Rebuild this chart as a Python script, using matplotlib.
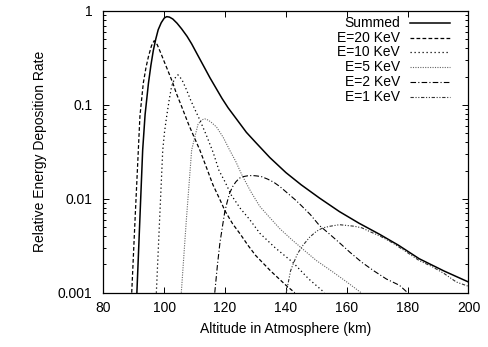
import matplotlib
matplotlib.use("Agg")
import matplotlib.pyplot as plt
from matplotlib.ticker import FixedLocator, FixedFormatter, LogLocator, NullFormatter

plt.rcParams['font.family'] = ['Liberation Sans', 'DejaVu Sans']

# ---- data (altitude km, relative rate) ----
summed_km = [91.0, 92.0, 92.9, 93.7, 94.8, 95.6, 96.4, 97.2, 98.0, 99.0, 100.0, 100.8,
             101.7, 102.8, 104.2, 105.7, 107.5, 109.0, 110.5, 112.0, 113.5, 115.0,
             117.0, 119.0, 121.0, 123.7, 127.0, 130.0, 134.7, 140.0, 145.0, 151.0,
             157.6, 164.0, 170.7, 177.0, 183.8, 192.0, 200.0]
summed_val = [0.001, 0.0063, 0.033, 0.079, 0.170, 0.263, 0.380, 0.501, 0.631, 0.750,
              0.841, 0.871, 0.861, 0.822, 0.741, 0.646, 0.537, 0.447, 0.363, 0.295,
              0.240, 0.195, 0.151, 0.117, 0.093, 0.071, 0.051, 0.040, 0.0275, 0.019,
              0.0141, 0.0102, 0.0073, 0.0055, 0.0042, 0.0032, 0.0023, 0.0017, 0.0013]

e20_km = [89.3, 90.5, 91.3, 92.0, 93.1, 94.0, 94.8, 95.8, 96.7, 97.7, 99.0, 100.0,
          101.0, 102.7, 104.0, 105.5, 108.0, 110.0, 111.7, 114.0, 116.0, 118.3, 120.0,
          122.5, 125.0, 127.5, 130.0, 135.0, 140.0, 142.9]
e20_val = [0.001, 0.0071, 0.025, 0.076, 0.170, 0.251, 0.327, 0.427, 0.483, 0.437,
           0.347, 0.288, 0.240, 0.175, 0.132, 0.100, 0.062, 0.044, 0.033, 0.021,
           0.0141, 0.0098, 0.0074, 0.0054, 0.0042, 0.0032, 0.0025, 0.0017, 0.0012,
           0.001]

e10_km = [97.4, 98.5, 99.5, 100.1, 100.8, 101.6, 102.4, 103.4, 104.5, 105.8, 107.3,
          108.7, 110.1, 111.7, 113.9, 116.1, 118.0, 120.0, 122.0, 125.0, 128.1, 131.4,
          136.5, 142.3, 147.5, 152.7]
e10_val = [0.001, 0.0063, 0.033, 0.052, 0.076, 0.112, 0.157, 0.191, 0.209, 0.186,
           0.145, 0.112, 0.089, 0.069, 0.047, 0.031, 0.020, 0.0151, 0.011, 0.0079,
           0.0060, 0.0043, 0.0030, 0.0021, 0.0014, 0.001]

e5_km = [105.6, 107.2, 109.0, 110.0, 111.1, 112.2, 113.3, 114.4, 115.5, 117.2, 119.4,
         121.5, 123.5, 125.5, 128.4, 131.4, 134.7, 138.0, 141.8, 145.6, 150.0, 155.0,
         160.0, 164.7]
e5_val = [0.001, 0.0056, 0.033, 0.045, 0.062, 0.069, 0.071, 0.069, 0.065, 0.058, 0.045,
          0.033, 0.025, 0.018, 0.0120, 0.0083, 0.0063, 0.0048, 0.0037, 0.0029, 0.0022,
          0.0017, 0.0013, 0.001]

e2_km = [116.6, 117.5, 118.3, 119.1, 119.9, 120.7, 121.5, 122.5, 123.5, 124.7, 125.9,
         127.5, 129.0, 130.5, 132.0, 134.0, 136.0, 138.0, 140.5, 143.0, 145.0, 148.0,
         151.0, 154.0, 157.6, 161.0, 165.0, 169.0, 173.0, 177.3, 180.0]
e2_val = [0.001, 0.002, 0.0034, 0.005, 0.0073, 0.0093, 0.0115, 0.0135, 0.0151, 0.0166,
          0.0172, 0.0176, 0.0177, 0.0175, 0.0172, 0.0162, 0.0150, 0.0135, 0.0115,
          0.0098, 0.0085, 0.0068, 0.0052, 0.0043, 0.0034, 0.0027, 0.0021, 0.0017,
          0.0014, 0.0012, 0.001]

e1_km = [140.1, 140.8, 141.5, 142.3, 143.8, 145.6, 147.8, 150.0, 152.1, 154.5, 157.6,
         160.0, 162.5, 165.0, 167.4, 171.0, 175.0, 179.0, 183.8, 188.0, 192.0, 196.0,
         200.0]
e1_val = [0.001, 0.0013, 0.0017, 0.002, 0.0026, 0.0032, 0.0039, 0.0045, 0.0049, 0.0051,
          0.0053, 0.0052, 0.0051, 0.0049, 0.0045, 0.0040, 0.0034, 0.0028, 0.0022,
          0.0019, 0.0016, 0.0013, 0.00117]

labels = ["Summed", "E=20 KeV", "E=10 KeV", "E=5 KeV", "E=2 KeV", "E=1 KeV"]
x_ticks = [80, 100, 120, 140, 160, 180, 200]
y_ticks = [0.001, 0.01, 0.1, 1]
y_tick_labels = ["0.001", "0.01", "0.1", "1"]

series = [(summed_km, summed_val), (e20_km, e20_val), (e10_km, e10_val),
          (e5_km, e5_val), (e2_km, e2_val), (e1_km, e1_val)]
styles = [
    dict(color='black', lw=1.1, linestyle='-'),
    dict(color='black', lw=0.9, linestyle=(0, (3, 1.8))),
    dict(color='black', lw=0.9, linestyle=(0, (1, 2.2))),
    dict(color='#666666', lw=0.8, linestyle=(0, (1, 1.2))),
    dict(color='black', lw=0.8, linestyle=(0, (5, 2, 1, 2))),
    dict(color='#333333', lw=0.8, linestyle=(0, (3, 1.5, 1, 1.5, 1, 1.5))),
]

fig = plt.figure(figsize=(4.89, 3.47), dpi=100)
ax = fig.add_axes([0.2115, 0.1565, 0.7465, 0.8118])

for (xs, ys), st in zip(series, styles):
    ax.plot(xs, ys, **st)

ax.set_yscale('log')
ax.set_xlim(80, 200)
ax.set_ylim(0.001, 1)
ax.xaxis.set_major_locator(FixedLocator(x_ticks))
ax.yaxis.set_major_locator(FixedLocator(y_ticks))
ax.yaxis.set_major_formatter(FixedFormatter(y_tick_labels))
ax.yaxis.set_minor_locator(LogLocator(base=10, subs=range(2, 10)))
ax.yaxis.set_minor_formatter(NullFormatter())
ax.tick_params(which='both', direction='in', top=True, right=True, labelsize=10,
               width=0.7, colors='black')
ax.tick_params(which='major', length=4.5)
ax.tick_params(which='minor', length=2.5)
ax.tick_params(axis='y', pad=8)
ax.tick_params(axis='x', pad=6)
for sp in ax.spines.values():
    sp.set_linewidth(0.9)

ax.set_xlabel("Altitude in Atmosphere (km)", fontsize=10, labelpad=5)
ax.set_ylabel("Relative Energy Deposition Rate", fontsize=10, labelpad=8)

# legend in gnuplot style: right aligned text, sample to the right
for i, (lab, st) in enumerate(zip(labels, styles)):
    yy = 0.958 - i * 0.0525
    ax.text(0.813, yy, lab, transform=ax.transAxes, ha='right', va='center', fontsize=10)
    ax.plot([0.840, 0.950], [yy, yy], transform=ax.transAxes, **st)

fig.savefig("out.png", dpi=100)
